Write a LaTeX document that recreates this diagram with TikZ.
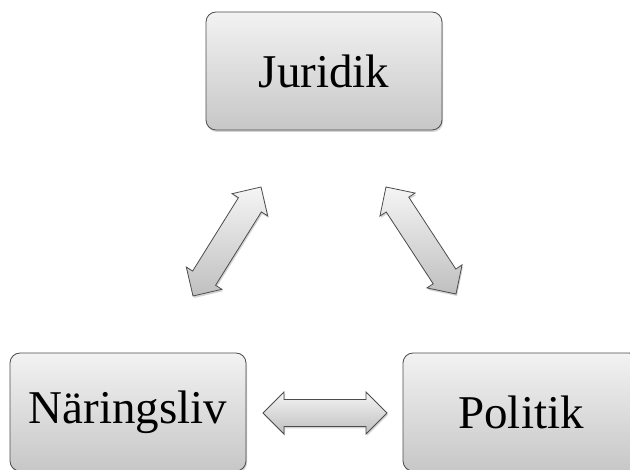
\documentclass[tikz,border=0pt]{standalone}
\usepackage{fontspec}
\setmainfont{Liberation Serif}
\usetikzlibrary{calc,shadows}

\tikzset{
  box/.style={draw=black!70, line width=0.8pt, rounded corners=10pt,
    top color=black!5, bottom color=black!22,
    minimum width=236pt, minimum height=118pt, inner sep=0pt,
    font=\fontsize{47}{50}\selectfont,
    drop shadow={opacity=0.35, shadow xshift=1pt, shadow yshift=-2pt}},
  arrowbody/.style={draw=black!70, line width=0.8pt, line join=miter,
    top color=black!4, bottom color=black!25,
    drop shadow={opacity=0.35, shadow xshift=1pt, shadow yshift=-2pt}}
}

% two-headed block arrow between two named points
\newcommand\twoway[2]{%
  \coordinate (#1h) at ($(#1)!21pt!(#2)$);
  \coordinate (#2h) at ($(#2)!21pt!(#1)$);
  \path[arrowbody] (#1)
    -- ($(#1h)!21pt!90:(#2)$) -- ($(#1h)!13.5pt!90:(#2)$)
    -- ($(#2h)!13.5pt!-90:(#1)$) -- ($(#2h)!21pt!-90:(#1)$)
    -- (#2)
    -- ($(#2h)!21pt!90:(#1)$) -- ($(#2h)!13.5pt!90:(#1)$)
    -- ($(#1h)!13.5pt!-90:(#2)$) -- ($(#1h)!21pt!-90:(#2)$)
    -- cycle;}

\begin{document}
\begin{tikzpicture}[x=1pt,y=1pt]
  \useasboundingbox (0,0) rectangle (630,470);
  \clip (0,0) rectangle (630,470);

  \node[box] (jur) at (324,399) {Juridik};
  \node[box] (nar) at (128,58) {Näringsliv};
  \node[box] (pol) at (521,58) {Politik};

  % arrow end points
  \coordinate (ln) at (193,174);
  \coordinate (lj) at (261,283);
  \coordinate (rj) at (386,283);
  \coordinate (rp) at (456,176);
  \coordinate (bn) at (263,57);
  \coordinate (bp) at (387,57);

  \twoway{ln}{lj}
  \twoway{rj}{rp}
  \twoway{bn}{bp}
\end{tikzpicture}
\end{document}
